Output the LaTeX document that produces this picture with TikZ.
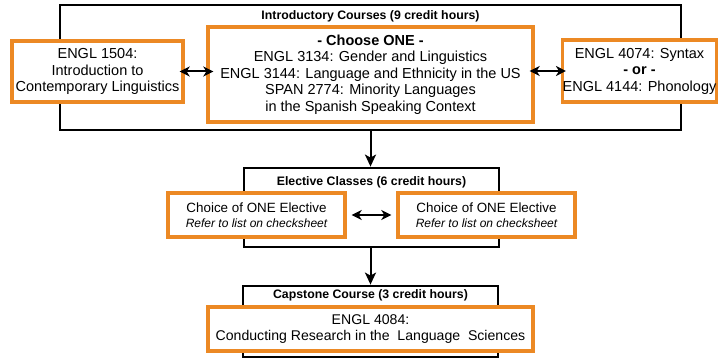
\documentclass[tikz,border=0pt]{standalone}
\usepackage{fontspec}
\setmainfont{Liberation Sans}
\usetikzlibrary{arrows.meta}

\definecolor{vtorange}{RGB}{236,137,36}

\newcommand*{\picw}{723}
\newcommand*{\pich}{358}
\newcommand*{\coursefont}{\fontsize{14.5}{16.5}\selectfont}
\newcommand*{\titlefont}{\bfseries\fontsize{12.3}{14}\selectfont}
\newcommand*{\electivefont}{\fontsize{13.4}{15.5}\selectfont}
\newcommand*{\notefont}{\itshape\fontsize{12}{14}\selectfont}

\begin{document}
\begin{tikzpicture}
[
	x=1pt, y=-1pt,
	groupbox/.style={draw=black,line width=2.8pt,inner sep=0pt},
	coursebox/.style={draw=vtorange,fill=white,line width=3.4pt,inner sep=0pt,align=center,font=\coursefont},
	grouptitle/.style={inner sep=0pt,font=\titlefont},
	twoway/.style={{Stealth[length=10pt,width=10pt,inset=3pt]}-{Stealth[length=10pt,width=10pt,inset=3pt]},line width=2pt},
	oneway/.style={-{Stealth[length=12pt,width=11pt,inset=3pt]},line width=2pt}
]

	\useasboundingbox (0,0) rectangle (\picw,\pich);

	% groups
	\node[groupbox,minimum width=621pt,minimum height=125pt] at (370.5,67.5) (intro) {};
	\node[groupbox,minimum width=255pt,minimum height=79pt] at (371.5,207.5) (elective) {};
	\node[groupbox,minimum width=255pt,minimum height=71pt] at (370.5,321.5) (capstone) {};

	\node[grouptitle] at (370.5,16) (introtitle) {Introductory Courses (9 credit hours)};
	\node[grouptitle] at (371.5,182) (electivetitle) {Elective Classes (6 credit hours)};
	\node[grouptitle] at (370.5,295) (capstonetitle) {Capstone Course (3 credit hours)};

	% courses
	\node[coursebox,minimum width=171pt,minimum height=61pt] at (97.5,71.5) (engl1504)
		{ENGL 1504:\\Introduction to\\Contemporary Linguistics};
	\node[coursebox,minimum width=325pt,minimum height=95pt] at (370.5,74.5) (chooseone)
		{\textbf{- Choose ONE -}\\ENGL 3134: Gender and Linguistics\\ENGL 3144: Language and Ethnicity in the US\\SPAN 2774: Minority Languages\\in the Spanish Speaking Context};
	\node[coursebox,minimum width=153pt,minimum height=62pt] at (639.5,71) (syntax)
		{ENGL 4074: Syntax\\\textbf{- or -}\\ENGL 4144: Phonology};

	\node[coursebox,font=\electivefont,minimum width=177pt,minimum height=44pt] at (256.5,215) (electivea)
		{Choice of ONE Elective\\{\notefont Refer to list on checksheet}};
	\node[coursebox,font=\electivefont,minimum width=177pt,minimum height=44pt] at (486.5,215) (electiveb)
		{Choice of ONE Elective\\{\notefont Refer to list on checksheet}};

	\node[coursebox,font=\fontsize{14.1}{16.5}\selectfont,minimum width=325pt,minimum height=44pt] at (370.5,329) (engl4084)
		{ENGL 4084:\\Conducting Research in the\ \ Language\ \ Sciences};

	% links
	\draw[twoway,shorten <=-5pt,shorten >=-7pt] (engl1504.east) -- (engl1504.east -| chooseone.west);
	\draw[twoway,shorten <=-5pt,shorten >=-5pt] (syntax.west -| chooseone.east) -- (syntax.west);
	\draw[twoway,shorten <=5pt,shorten >=5pt] (electivea.east) -- (electiveb.west);

	\draw[oneway] (intro.south) -- (intro.south |- elective.north);
	\draw[oneway] (elective.south -| intro.south) -- (intro.south |- capstone.north);

\end{tikzpicture}
\end{document}
